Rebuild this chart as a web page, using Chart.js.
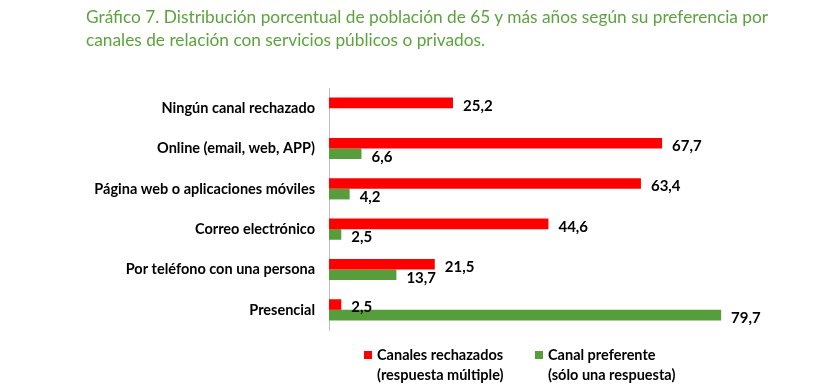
<!DOCTYPE html>
<html><head><meta charset="utf-8">
<script src="https://cdn.jsdelivr.net/npm/chart.js@4/dist/chart.umd.min.js"></script>
<style>
html,body{margin:0;padding:0;background:#fff;}
#wrap{position:relative;width:832px;height:388px;}
#title{position:absolute;left:86px;top:5px;font-family:Lato,"Open Sans",sans-serif;font-size:17.3px;line-height:23px;color:#5ba43c;white-space:nowrap;}
canvas{position:absolute;left:0;top:0;}
</style></head>
<body><div id="wrap"><canvas id="c" width="832" height="388"></canvas>
<div id="title">Gráfico 7. Distribución porcentual de población de 65 y más años según su preferencia por<br>canales de relación con servicios públicos o privados.</div></div>
<script>
const categories = ["Ningún canal rechazado","Online (email, web, APP)","Página web o aplicaciones móviles","Correo electrónico","Por teléfono con una persona","Presencial"];
const rechazados = [25.2, 67.7, 63.4, 44.6, 21.5, 2.5];
const preferente = [null, 6.6, 4.2, 2.5, 13.7, 79.7];
const seriesLabels = [["Canales rechazados","(respuesta múltiple)"],["Canal preferente","(sólo una respuesta)"]];
const RED = "#ff0000", GREEN = "#569e3c";
const FONT = "Lato, 'Open Sans', sans-serif";

const valueLabels = {
  id:'valueLabels',
  afterDatasetsDraw(chart){
    const ctx = chart.ctx;
    ctx.save();
    ctx.font = "bold 15px " + FONT;
    ctx.fillStyle = "#000";
    ctx.textBaseline = "middle";
    ctx.textAlign = "left";
    chart.data.datasets.forEach((ds, di) => {
      const meta = chart.getDatasetMeta(di);
      meta.data.forEach((bar, i) => {
        const v = ds.data[i];
        if (v == null) return;
        ctx.fillText(v.toFixed(1).replace('.', ','), bar.x + 10, bar.y + 3);
      });
    });
    ctx.restore();
  }
};
const customLegend = {
  id:'customLegend',
  afterDraw(chart){
    const ctx = chart.ctx;
    ctx.save();
    ctx.font = "bold 14.5px " + FONT;
    ctx.textBaseline = "middle";
    ctx.textAlign = "left";
    const xs = [364, 535];
    chart.data.datasets.forEach((ds, di) => {
      const x = xs[di];
      ctx.fillStyle = ds.backgroundColor;
      ctx.fillRect(x, 351, 8, 8);
      ctx.fillStyle = "#000";
      seriesLabels[di].forEach((t, li) => ctx.fillText(t, x + 13, 355 + li * 20));
    });
    ctx.restore();
  }
};

new Chart(document.getElementById('c'), {
  type:'bar',
  data:{
    labels: categories,
    datasets:[
      {label: seriesLabels[0].join(' '), data: rechazados, backgroundColor: RED, categoryPercentage:0.525, barPercentage:1},
      {label: seriesLabels[1].join(' '), data: preferente, backgroundColor: GREEN, categoryPercentage:0.525, barPercentage:1}
    ]
  },
  options:{
    indexAxis:'y',
    responsive:false,
    animation:false,
    layout:{padding:{top:88,bottom:58,right:11,left:0}},
    plugins:{legend:{display:false},title:{display:false},tooltip:{enabled:false}},
    scales:{
      x:{display:false,min:0,max:100},
      y:{
        afterFit(s){ s.width = 329; },
        grid:{display:false,drawTicks:false,tickLength:0},
        border:{display:true,color:"#bfbfbf",width:1},
        ticks:{padding:14,color:"#000",font:{family:FONT,size:14.5,weight:'bold'}}
      }
    }
  },
  plugins:[valueLabels, customLegend]
});
</script></body></html>
